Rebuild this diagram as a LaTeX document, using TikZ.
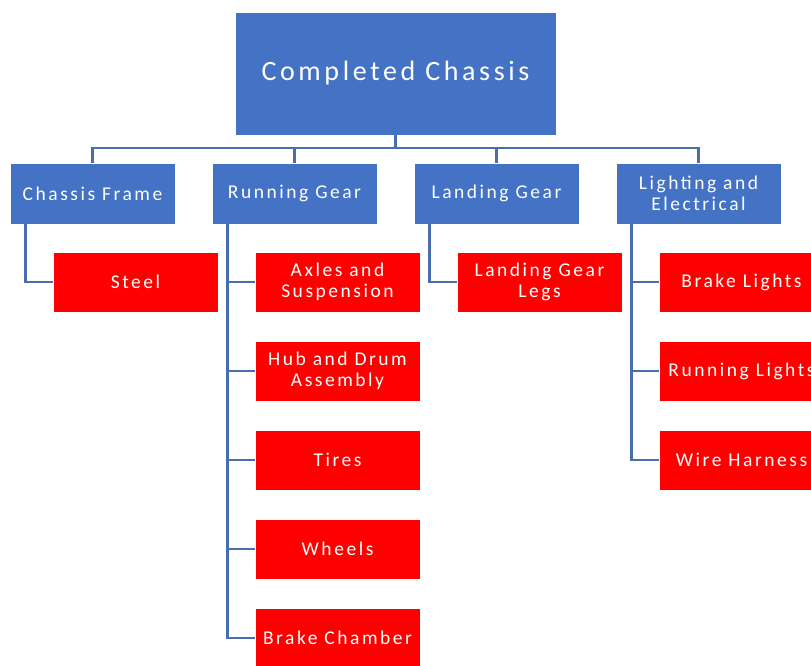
\documentclass[tikz,border=0pt]{standalone}
\usepackage{fontspec}
\newfontfamily\boxfont{Carlito}[LetterSpace=13]
\usetikzlibrary{positioning}
\definecolor{boxblue}{HTML}{4472C4}
\definecolor{boxred}{HTML}{FF0000}
\definecolor{linkblue}{HTML}{4A6DB0}

\begin{document}
\begin{tikzpicture}[semithick, node distance=202pt]
    \tikzstyle{root}=[rectangle, fill=boxblue, draw=white, text=white, minimum width=321pt, minimum height=123pt, inner sep=0pt, font=\boxfont\fontsize{28}{32}\selectfont]
    \tikzstyle{group}=[rectangle, fill=boxblue, draw=white, text=white, minimum width=165pt, minimum height=61pt, inner sep=0pt, align=center, font=\boxfont\fontsize{19.5}{21}\selectfont]
    \tikzstyle{part}=[group, fill=boxred, minimum height=60pt]
    \tikzstyle{link}=[draw=linkblue, line width=2.2pt]

    \clip (0pt,0pt) rectangle (811pt,-665pt);

    % Define the boxes
    \node[root] (chassis) at (395.5pt,-73.5pt) {Completed Chassis};
    \node[group] (frame) at (92.5pt,-193.5pt) {Chassis Frame};
    \node[group] (running) [right of=frame] {Running Gear};
    \node[group] (landing) [right of=running] {Landing Gear};
    \node[group] (lighting) [right of=landing] {Lighting and\\Electrical};

    % Parts under each group
    \node[part] (steel) [below of=frame, node distance=88.5pt, xshift=43pt] {Steel};

    \node[part] (axles) [below of=running, node distance=88.5pt, xshift=43pt] {Axles and\\Suspension};
    \node[part] (hub) [below of=axles, node distance=89pt] {Hub and Drum\\Assembly};
    \node[part] (tires) [below of=hub, node distance=89pt] {Tires};
    \node[part] (wheels) [below of=tires, node distance=89pt] {Wheels};
    \node[part] (chamber) [below of=wheels, node distance=89pt] {Brake Chamber};

    \node[part] (legs) [below of=landing, node distance=88.5pt, xshift=43pt] {Landing Gear\\Legs};

    \node[part] (brake) [below of=lighting, node distance=88.5pt, xshift=43pt] {Brake Lights};
    \node[part] (runlights) [below of=brake, node distance=89pt] {Running Lights};
    \node[part] (harness) [below of=runlights, node distance=89pt] {Wire Harness};

    % Connect the top box with the groups
    \draw[link] (chassis.south) -- ++(0,-13pt) -| (frame.north);
    \draw[link] (chassis.south) -- ++(0,-13pt) -| (running.north);
    \draw[link] (chassis.south) -- ++(0,-13pt) -| (landing.north);
    \draw[link] (chassis.south) -- ++(0,-13pt) -| (lighting.north);

    % Connect the groups with their parts
    \draw[link] ([xshift=-67pt]frame.south) |- (steel.west);
    \draw[link] ([xshift=-67pt]running.south) |- (axles.west);
    \draw[link] ([xshift=-67pt]running.south) |- (hub.west);
    \draw[link] ([xshift=-67pt]running.south) |- (tires.west);
    \draw[link] ([xshift=-67pt]running.south) |- (wheels.west);
    \draw[link] ([xshift=-67pt]running.south) |- (chamber.west);
    \draw[link] ([xshift=-67pt]landing.south) |- (legs.west);
    \draw[link] ([xshift=-67pt]lighting.south) |- (brake.west);
    \draw[link] ([xshift=-67pt]lighting.south) |- (runlights.west);
    \draw[link] ([xshift=-67pt]lighting.south) |- (harness.west);

\end{tikzpicture}
\end{document}
